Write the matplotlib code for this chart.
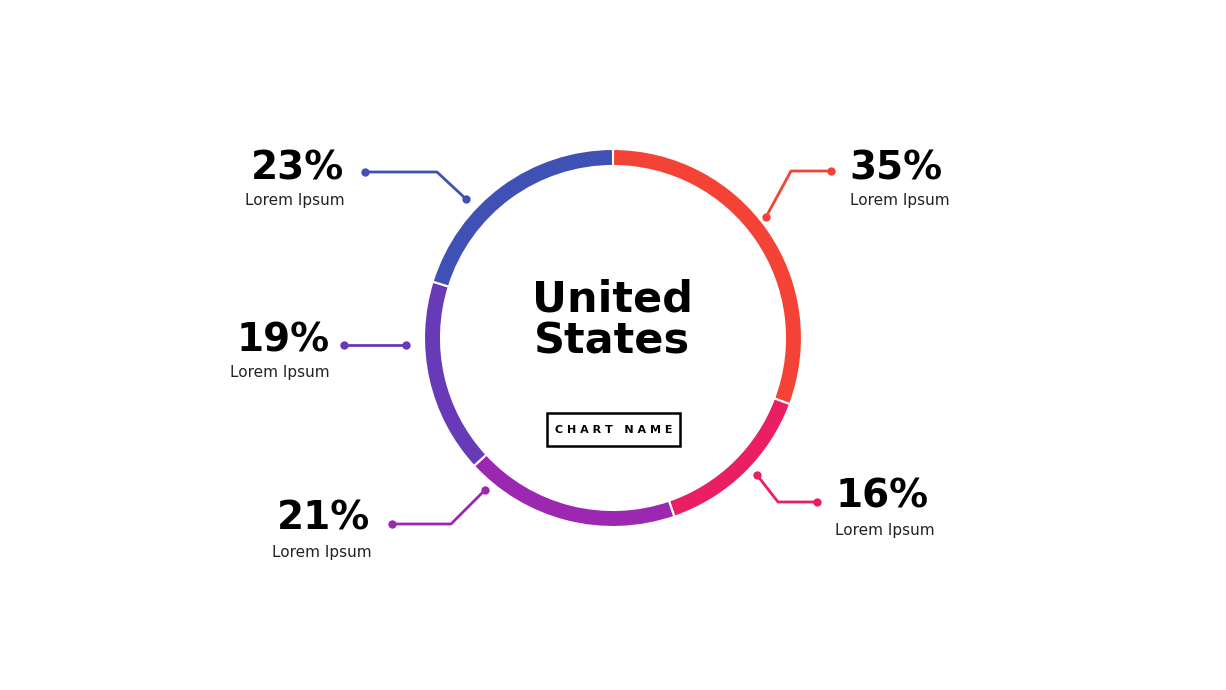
import matplotlib
matplotlib.use("Agg")
import matplotlib.pyplot as plt
from matplotlib.patches import Rectangle

values = [35, 16, 21, 19, 23]
labels = ["35%", "16%", "21%", "19%", "23%"]
sublabels = ["Lorem Ipsum"] * 5
colors = ["#F44336", "#E91E63", "#9C27B0", "#673AB7", "#3F51B5"]
title_lines = "United\nStates"
chart_name = "C H A R T   N A M E"

fig = plt.figure(figsize=(12.26, 6.90), dpi=100)
ax = fig.add_axes([0, 0, 1, 1])

cx, cy, R, W = 613, 338, 189, 17
# y axis is inverted below (pixel coords), so startangle=270 / counterclock=True
# appears as "start at top, go clockwise" on screen
ax.pie(values, colors=colors, startangle=270, counterclock=True,
       radius=R, center=(cx, cy), frame=True,
       wedgeprops=dict(width=W, edgecolor="white", linewidth=1.5))
ax.set_xlim(0, 1226)
ax.set_ylim(690, 0)
ax.set_aspect("equal")
ax.axis("off")

# leader lines (polyline points) per slice
leaders = [
    [(831, 171), (791, 171), (766, 217)],
    [(817, 502), (778, 502), (757, 475)],
    [(392, 524), (451, 524), (485, 490)],
    [(344, 345), (406, 345)],
    [(365, 172), (437, 172), (466, 199)],
]
text_pos = [(896, 168, 900, 200), (882, 497, 885, 530), (324, 519, 322, 552),
            (283, 341, 280, 373), (297, 169, 295, 201)]

for pts, col, lab, sub, (tx, ty, sx, sy) in zip(leaders, colors, labels, sublabels, text_pos):
    xs = [p[0] for p in pts]
    ys = [p[1] for p in pts]
    ax.plot(xs, ys, color=col, lw=2, solid_capstyle="round")
    ax.plot([xs[0], xs[-1]], [ys[0], ys[-1]], "o", color=col, ms=6, mec="none")
    ax.text(tx, ty, lab, ha="center", va="center", fontsize=28,
            fontweight="bold", family="DejaVu Sans", color="black")
    ax.text(sx, sy, sub, ha="center", va="center", fontsize=11,
            family="DejaVu Sans", color="#222222")

ax.text(612, 321, title_lines, ha="center", va="center", fontsize=31,
        fontweight="bold", family="DejaVu Sans", linespacing=1.0, color="black")

ax.add_patch(Rectangle((547, 413), 133, 33, fill=False, ec="black", lw=1.8))
ax.text(613.5, 430, chart_name, ha="center", va="center", fontsize=8,
        fontweight="bold", family="DejaVu Sans", color="black")

fig.savefig("out.png", dpi=100, facecolor="white")
